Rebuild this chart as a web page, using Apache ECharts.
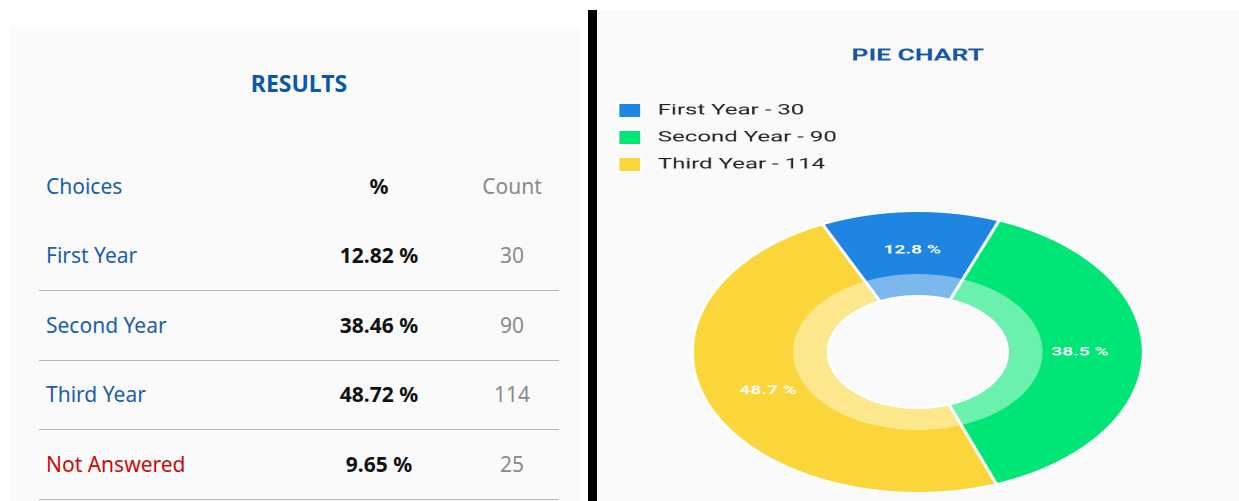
<!DOCTYPE html>
<html>
<head>
<meta charset="utf-8">
<script src="https://cdn.jsdelivr.net/npm/echarts@6/dist/echarts.min.js"></script>
<style>
  html, body { margin: 0; padding: 0; background: #fff; width: 1239px; height: 501px; overflow: hidden; }
  .left { position: absolute; left: 10px; top: 27px; width: 570px; height: 474px; background: #fafafa; font-family: 'Noto Sans', sans-serif; }
  .left .cell { position: absolute; font-size: 21px; line-height: 24px; white-space: nowrap; }
  .left .line { position: absolute; left: 29px; width: 520px; height: 1px; background: #b8b8b8; }
  .bar { position: absolute; left: 588px; top: 10px; width: 9px; height: 491px; background: #000; }
  .right { position: absolute; left: 597px; top: 10px; width: 642px; height: 491px; background: #fafafa; overflow: hidden; }
  #pie { position: absolute; left: 0; top: 0; width: 401px; height: 491px; transform: scaleX(1.6); transform-origin: 0 0; }
</style>
</head>
<body>
<div class="left" id="table"></div>
<div class="bar"></div>
<div class="right"><div id="pie"></div></div>
<script>
// table data
var choices = ['First Year', 'Second Year', 'Third Year', 'Not Answered'];
var percents = ['12.82 %', '38.46 %', '48.72 %', '9.65 %'];
var counts = [30, 90, 114, 25];
var choiceColors = ['#1c5ea8', '#1c5ea8', '#1c5ea8', '#cc0a0a'];

// pie data (answered only)
var pieNames = ['First Year', 'Second Year', 'Third Year'];
var pieValues = [30, 90, 114];
var pieColors = ['#1e85e2', '#00e676', '#fbd63a'];

var table = document.getElementById('table');
function cell(text, x, y, color, align, bold, size) {
  var d = document.createElement('div');
  d.className = 'cell';
  d.textContent = text;
  d.style.color = color;
  d.style.top = (y - 12) + 'px';
  if (size) d.style.fontSize = size + 'px';
  if (bold) d.style.fontWeight = 'bold';
  if (align === 'center') {
    d.style.left = (x - 100) + 'px';
    d.style.width = '200px';
    d.style.textAlign = 'center';
  } else {
    d.style.left = x + 'px';
  }
  table.appendChild(d);
}
// offsets relative to the grey box (10, 27)
cell('RESULTS', 289, 56, '#0d58a6', 'center', true, 23);
cell('Choices', 36, 159, '#1c5ea8');
cell('%', 369, 159, '#111', 'center', true);
cell('Count', 502, 159, '#8a8a8a', 'center');
for (var i = 0; i < choices.length; i++) {
  var y = 228 + i * 69.5;
  cell(choices[i], 36, y, choiceColors[i]);
  cell(percents[i], 369, y, '#111', 'center', true);
  cell(String(counts[i]), 502, y, '#8a8a8a', 'center');
  var ln = document.createElement('div');
  ln.className = 'line';
  ln.style.top = (y + 35) + 'px';
  table.appendChild(ln);
}

var myChart = echarts.init(document.getElementById('pie'), null, { devicePixelRatio: 2 });
var data = pieNames.map(function (n, i) {
  return { name: n, value: pieValues[i], itemStyle: { color: pieColors[i] } };
});
var option = {
  title: {
    text: 'PIE CHART',
    left: 'center',
    top: 33,
    textStyle: { color: '#1556a8', fontSize: 16.5, fontWeight: 'bold', fontFamily: 'Roboto' }
  },
  legend: {
    orient: 'vertical',
    left: 12,
    top: 92,
    padding: 0,
    itemWidth: 15,
    itemHeight: 15,
    itemGap: 10,
    icon: 'rect',
    data: pieNames,
    formatter: function (name) {
      return name + ' - ' + pieValues[pieNames.indexOf(name)];
    },
    textStyle: { color: '#222', fontSize: 15, fontFamily: 'Roboto', padding: [0, 0, 0, 5] }
  },
  series: [{
    type: 'pie',
    center: ['50%', 342],
    radius: [56, 141],
    startAngle: 115,
    silent: true,
    itemStyle: { borderColor: '#fff', borderWidth: 2 },
    label: {
      position: 'inside',
      color: '#fff',
      fontSize: 12,
      fontWeight: 'bold',
      fontFamily: 'Roboto',
      formatter: function (p) { return p.percent.toFixed(1) + ' %'; }
    },
    labelLine: { show: false },
    data: data
  }, {
    // light inner ring laid over the same slices
    type: 'pie',
    center: ['50%', 342],
    radius: [56, 78],
    startAngle: 115,
    silent: true,
    itemStyle: { color: 'rgba(255,255,255,0.42)', borderWidth: 0 },
    label: { show: false },
    labelLine: { show: false },
    data: pieNames.map(function (n, i) { return { name: n + ' ', value: pieValues[i] }; })
  }]
};
myChart.setOption(option);
</script>
</body>
</html>
